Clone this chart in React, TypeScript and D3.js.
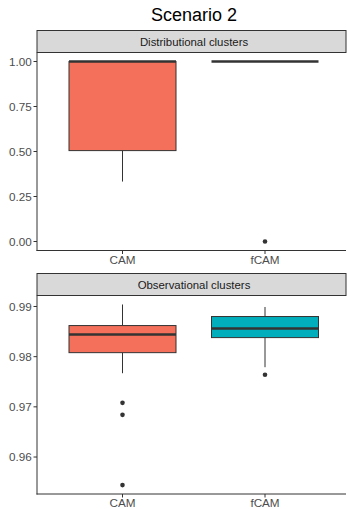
import React from 'react';
import * as d3 from 'd3';

const categories = ['CAM', 'fCAM'];
const fills = ['#F4705A', '#00AFBB'];

// [lowerWhisker, q1, median, q3, upperWhisker]
const distStats = [
  [0.333, 0.505, 1.0, 1.0, 1.0],
  [1.0, 1.0, 1.0, 1.0, 1.0],
];
const distOutliers = [[], [0.0]];
const distTicks = [0, 0.25, 0.5, 0.75, 1.0];

const obsStats = [
  [0.9767, 0.9808, 0.9844, 0.9862, 0.9904],
  [0.9779, 0.9838, 0.9856, 0.988, 0.9899],
];
const obsOutliers = [[0.9708, 0.9684, 0.9544], [0.9764]];
const obsTicks = [0.96, 0.97, 0.98, 0.99];

const FONT = '"Liberation Sans", Arial, sans-serif';

type PanelProps = {
  title: string;
  top: number;
  bottom: number;
  domain: [number, number];
  stats: number[][];
  outliers: number[][];
  ticks: number[];
  fmt: (d: number) => string;
};

const left = 37;
const right = 346;
const stripH = 22;

const Panel = ({ title, top, bottom, domain, stats, outliers, ticks, fmt }: PanelProps) => {
  const y = d3.scaleLinear().domain(domain).range([bottom, top + stripH]);
  const x = d3.scalePoint<string>().domain(categories).range([122.5, 265]);
  const bw = 107;

  return (
    <g>
      {/* strip */}
      <rect x={left} y={top} width={right - left} height={stripH} fill="#D9D9D9" stroke="#333" strokeWidth={1} />
      <text x={194} y={top + stripH / 2 + 4} textAnchor="middle" fontSize={11.4} fill="#1A1A1A" fontFamily={FONT}>
        {title}
      </text>

      {categories.map((c, i) => {
        const [lw, q1, med, q3, uw] = stats[i];
        const cx = x(c)!;
        return (
          <g key={c}>
            <line x1={cx} x2={cx} y1={y(q1)} y2={y(lw)} stroke="#333" strokeWidth={1} />
            <line x1={cx} x2={cx} y1={y(q3)} y2={y(uw)} stroke="#333" strokeWidth={1} />
            <rect x={cx - bw / 2} y={y(q3)} width={bw} height={Math.max(0, y(q1) - y(q3))} fill={fills[i]} stroke="#333" strokeWidth={1} />
            <line x1={cx - bw / 2} x2={cx + bw / 2} y1={y(med)} y2={y(med)} stroke="#333" strokeWidth={2.5} />
            {outliers[i].map((o, j) => (
              <circle key={j} cx={cx} cy={y(o)} r={2.3} fill="#333" />
            ))}
          </g>
        );
      })}

      {/* axes */}
      <line x1={left} x2={left} y1={top + stripH} y2={bottom + 0.5} stroke="#333" strokeWidth={1} />
      <line x1={left - 0.5} x2={right} y1={bottom} y2={bottom} stroke="#333" strokeWidth={1} />
      {ticks.map((t) => (
        <g key={t}>
          <line x1={left - 3.5} x2={left} y1={y(t)} y2={y(t)} stroke="#333" strokeWidth={1} />
          <text x={left - 5.3} y={y(t) + 4.1} textAnchor="end" fontSize={11.7} fill="#4D4D4D" fontFamily={FONT}>
            {fmt(t)}
          </text>
        </g>
      ))}
      {categories.map((c) => (
        <g key={c}>
          <line x1={x(c)} x2={x(c)} y1={bottom} y2={bottom + 3.5} stroke="#333" strokeWidth={1} />
          <text x={x(c)} y={bottom + 13} textAnchor="middle" fontSize={11.7} fill="#4D4D4D" fontFamily={FONT}>
            {c}
          </text>
        </g>
      ))}
    </g>
  );
};

export default function App() {
  return (
    <svg width={347} height={509} style={{ position: 'absolute', left: 0, top: 0 }}>
      <rect width={347} height={509} fill="white" />
      <text x={194} y={20.7} textAnchor="middle" fontSize={18} fill="#000" fontFamily={FONT}>
        Scenario 2
      </text>
      <Panel
        title="Distributional clusters"
        top={30.5}
        bottom={250.5}
        domain={[-0.05, 1.05]}
        stats={distStats}
        outliers={distOutliers}
        ticks={distTicks}
        fmt={d3.format('.2f')}
      />
      <Panel
        title="Observational clusters"
        top={273.5}
        bottom={494}
        domain={[0.95263, 0.99219]}
        stats={obsStats}
        outliers={obsOutliers}
        ticks={obsTicks}
        fmt={d3.format('.2f')}
      />
    </svg>
  );
}
